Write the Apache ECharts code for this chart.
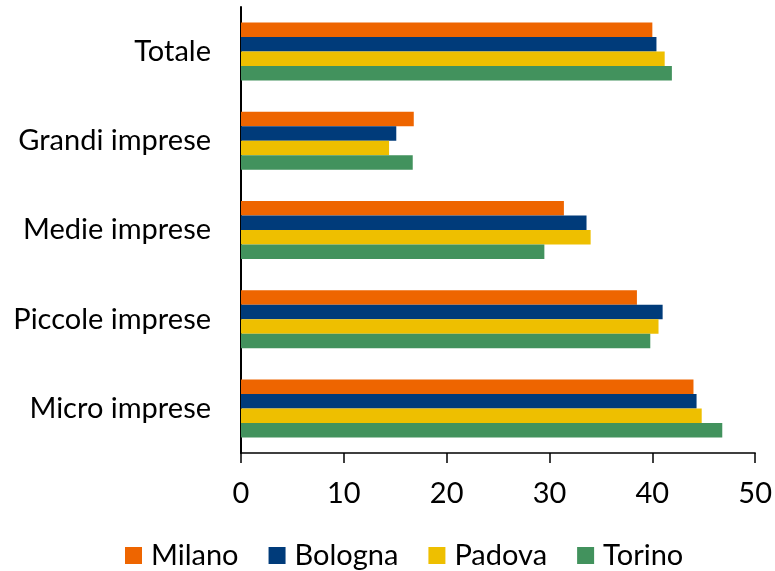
<!DOCTYPE html>
<html>
<head>
<meta charset="utf-8">
<script src="https://cdn.jsdelivr.net/npm/echarts@6/dist/echarts.min.js"></script>
<style>
  html, body { margin: 0; padding: 0; background: #fff; }
</style>
</head>
<body>
<div id="chart" style="width:775px;height:571px;"></div>
<script>
// categories, top to bottom
const categories = ['Totale', 'Grandi imprese', 'Medie imprese', 'Piccole imprese', 'Micro imprese']
const cities = ['Milano', 'Bologna', 'Padova', 'Torino']

// valori per citta' (stesso ordine delle categorie)
const milano = [40.0, 16.8, 31.4, 38.5, 44.0]
const bologna = [40.4, 15.1, 33.6, 41.0, 44.3]
const padova = [41.2, 14.4, 34.0, 40.6, 44.8]
const torino = [41.9, 16.7, 29.5, 39.8, 46.8]

const xTicks = [0, 10, 20, 30, 40, 50]

const colors = {
  Milano: '#EE6500',
  Bologna: '#003B7A',
  Padova: '#EEBF00',
  Torino: '#42925D'
}
const values = { Milano: milano, Bologna: bologna, Padova: padova, Torino: torino }

const font = 'Lato'
const chart = echarts.init(document.getElementById('chart'))

const option = {
  animation: false,
  color: cities.map(c => colors[c]),
  textStyle: { fontFamily: font },
  grid: {
    left: 241,
    right: 19,
    top: 7,
    bottom: 118,
    containLabel: false
  },
  legend: {
    data: cities,
    top: 536,
    left: 120,
    itemWidth: 17,
    itemHeight: 17,
    itemGap: 30,
    icon: 'rect',
    textStyle: { fontSize: 29, color: '#000', fontFamily: font, padding: [0, 0, 0, 4] }
  },
  xAxis: {
    type: 'value',
    min: xTicks[0],
    max: xTicks[xTicks.length - 1],
    interval: 10,
    axisLine: { show: true, lineStyle: { color: '#000', width: 1.5 } },
    axisTick: { show: true, length: 10, lineStyle: { color: '#000', width: 1.5 } },
    axisLabel: { fontSize: 29, color: '#000', margin: 26, fontFamily: font },
    splitLine: { show: false }
  },
  yAxis: {
    type: 'category',
    inverse: true,
    data: categories,
    axisLine: { show: true, lineStyle: { color: '#000', width: 2 } },
    axisTick: { show: false },
    axisLabel: { fontSize: 29, color: '#000', margin: 30, fontFamily: font }
  },
  series: cities.map(c => ({
    name: c,
    type: 'bar',
    data: values[c],
    barWidth: 14.5,
    barGap: '0%',
    barCategoryGap: '35%'
  }))
}

chart.setOption(option)
</script>
</body>
</html>
